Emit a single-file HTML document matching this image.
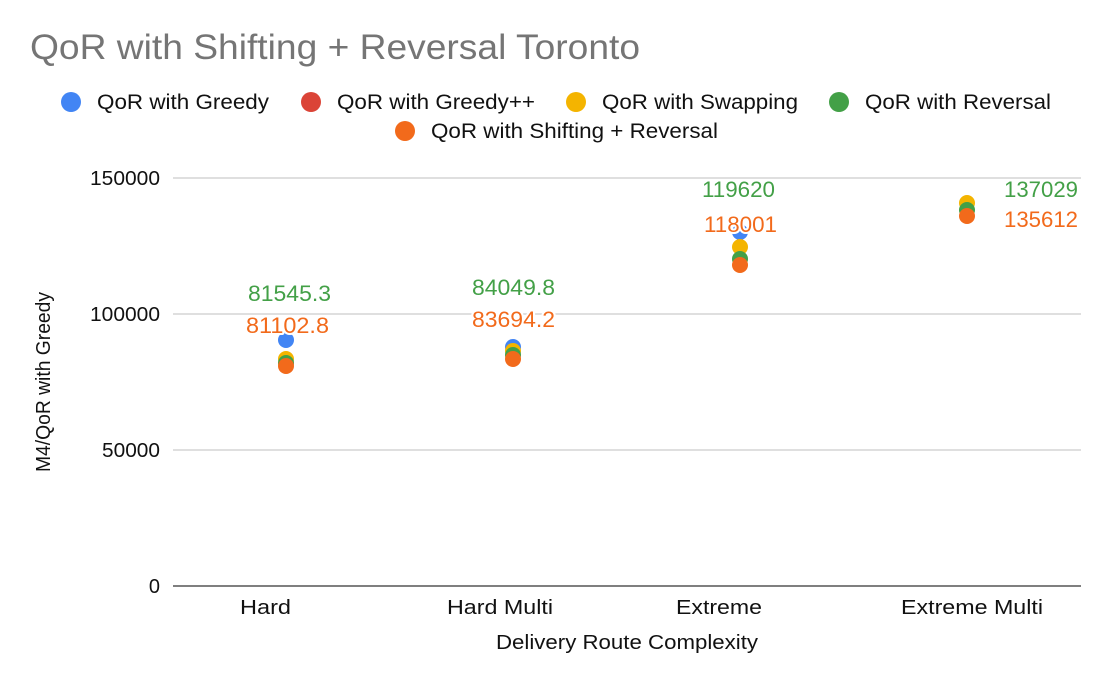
<!DOCTYPE html>
<html><head><style>
body{margin:0;background:#fff;}
svg text{font-family:"Liberation Sans",Arial,sans-serif;}
</style></head><body>
<svg width="1113" height="688" xmlns="http://www.w3.org/2000/svg">
<rect width="1113" height="688" fill="#fff"/>
<text x="30" y="59" font-size="35" fill="#757575" textLength="610" lengthAdjust="spacingAndGlyphs">QoR with Shifting + Reversal Toronto</text>
<g font-size="21" fill="#111">
<circle cx="71" cy="102" r="10" fill="#4285f4"/><text x="97" y="109" textLength="172" lengthAdjust="spacingAndGlyphs">QoR with Greedy</text>
<circle cx="311" cy="102" r="10" fill="#db4437"/><text x="337" y="109" textLength="198" lengthAdjust="spacingAndGlyphs">QoR with Greedy++</text>
<circle cx="576" cy="102" r="10" fill="#f4b400"/><text x="602" y="109" textLength="196" lengthAdjust="spacingAndGlyphs">QoR with Swapping</text>
<circle cx="839" cy="102" r="10" fill="#43a047"/><text x="865" y="109" textLength="186" lengthAdjust="spacingAndGlyphs">QoR with Reversal</text>
<circle cx="405" cy="131" r="10" fill="#f26a1b"/><text x="431" y="138" textLength="287" lengthAdjust="spacingAndGlyphs">QoR with Shifting + Reversal</text>
</g>
<g stroke="#ccc" stroke-width="1.3">
<line x1="173" y1="178" x2="1081" y2="178"/>
<line x1="173" y1="314" x2="1081" y2="314"/>
<line x1="173" y1="450" x2="1081" y2="450"/>
</g>
<line x1="173" y1="586" x2="1081" y2="586" stroke="#333" stroke-width="1.3"/>
<g font-size="20" fill="#111" text-anchor="end">
<text x="160" y="185" textLength="70" lengthAdjust="spacingAndGlyphs">150000</text>
<text x="160" y="321" textLength="70" lengthAdjust="spacingAndGlyphs">100000</text>
<text x="160" y="457" textLength="58" lengthAdjust="spacingAndGlyphs">50000</text>
<text x="160" y="593">0</text>
</g>
<g font-size="20" fill="#111">
<text x="240" y="614" textLength="51" lengthAdjust="spacingAndGlyphs">Hard</text>
<text x="447" y="614" textLength="106" lengthAdjust="spacingAndGlyphs">Hard Multi</text>
<text x="676" y="614" textLength="86" lengthAdjust="spacingAndGlyphs">Extreme</text>
<text x="901" y="614" textLength="142" lengthAdjust="spacingAndGlyphs">Extreme Multi</text>
<text x="496" y="649" textLength="262" lengthAdjust="spacingAndGlyphs">Delivery Route Complexity</text>
</g>
<text transform="translate(50,382) rotate(-90)" font-size="20" fill="#111" text-anchor="middle" textLength="180" lengthAdjust="spacingAndGlyphs">M4/QoR with Greedy</text>
<g>
<circle cx="286" cy="340" r="8" fill="#4285f4"/>
<circle cx="286" cy="359" r="8" fill="#f4b400"/>
<circle cx="286" cy="363" r="8" fill="#43a047"/>
<circle cx="286" cy="366" r="8" fill="#f26a1b"/>
<circle cx="513" cy="347" r="8" fill="#4285f4"/>
<circle cx="513" cy="351" r="8" fill="#f4b400"/>
<circle cx="513" cy="355" r="8" fill="#43a047"/>
<circle cx="513" cy="359" r="8" fill="#f26a1b"/>
<circle cx="740" cy="232" r="8" fill="#4285f4"/>
<circle cx="740" cy="247" r="8" fill="#f4b400"/>
<circle cx="740" cy="259" r="8" fill="#43a047"/>
<circle cx="740" cy="265" r="8" fill="#f26a1b"/>
<circle cx="967" cy="203" r="8" fill="#f4b400"/>
<circle cx="967" cy="210" r="8" fill="#43a047"/>
<circle cx="967" cy="216" r="8" fill="#f26a1b"/>
</g>
<g font-size="22" stroke="#fff" stroke-width="4" paint-order="stroke" stroke-linejoin="round">
<text x="248" y="301" fill="#43a047" textLength="83" lengthAdjust="spacingAndGlyphs">81545.3</text>
<text x="246" y="333" fill="#f26a1b" textLength="83" lengthAdjust="spacingAndGlyphs">81102.8</text>
<text x="472" y="295" fill="#43a047" textLength="83" lengthAdjust="spacingAndGlyphs">84049.8</text>
<text x="472" y="327" fill="#f26a1b" textLength="83" lengthAdjust="spacingAndGlyphs">83694.2</text>
<text x="702" y="197" fill="#43a047" textLength="73" lengthAdjust="spacingAndGlyphs">119620</text>
<text x="704" y="232" fill="#f26a1b" textLength="73" lengthAdjust="spacingAndGlyphs">118001</text>
<text x="1004" y="197" fill="#43a047" textLength="74" lengthAdjust="spacingAndGlyphs">137029</text>
<text x="1004" y="227" fill="#f26a1b" textLength="74" lengthAdjust="spacingAndGlyphs">135612</text>
</g>
</svg>
</body></html>
